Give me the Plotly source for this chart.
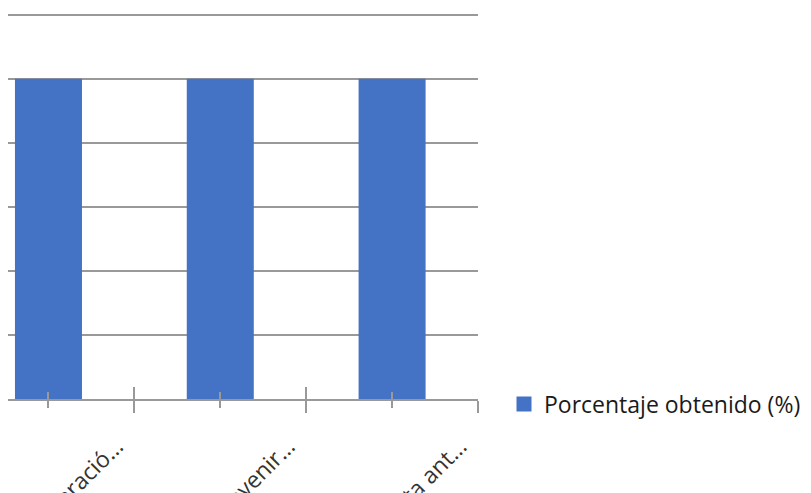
import plotly.graph_objects as go

categories = ["Cooperació…", "Prevenir…", "Respuesta ant…"]
values = [100, 100, 100]
series_name = "Porcentaje obtenido (%)"
y_ticks = [0, 20, 40, 60, 80, 100, 120]

BLUE = "#4472C4"
GRID = "#999999"
FONT = "Open Sans"

idx = list(range(len(categories)))
bounds = [i + 0.5 for i in idx]
xr = [-0.2355, len(categories) - 0.5]
yr = [0, 120.5]

fig = go.Figure()
fig.add_trace(go.Bar(x=idx, y=values, width=0.39, marker=dict(color=BLUE, line=dict(width=0)),
                     name=series_name, showlegend=False))
# legend entry with bigger square
fig.add_trace(go.Scatter(x=[None], y=[None], mode="markers", name=series_name,
                         marker=dict(symbol="square", size=15, color=BLUE)))
# overlay trace for inside ticks
fig.add_trace(go.Scatter(x=[None], y=[None], xaxis="x2", showlegend=False, hoverinfo="skip"))

common = dict(range=xr, showgrid=False, zeroline=False, tickwidth=1.5, tickcolor=GRID,
              automargin=False)
fig.update_layout(
    width=811, height=493,
    margin=dict(l=0, r=340.5, t=5.4, b=102, pad=0),
    paper_bgcolor="white", plot_bgcolor="white",
    xaxis=dict(**common, tickmode="array", tickvals=idx, ticktext=categories,
               ticks="outside", ticklen=7, ticklabeloverflow="allow",
               showline=True, linecolor=GRID, linewidth=1.5,
               tickangle=-45, ticklabelshift=68, ticklabelstandoff=16,
               tickfont=dict(family=FONT, size=23, color="#333333"),
               minor=dict(tickmode="array", tickvals=bounds, ticks="outside", ticklen=12,
                          tickwidth=1.5, tickcolor=GRID, showgrid=False)),
    xaxis2=dict(**common, overlaying="x", anchor="y", side="bottom",
                tickmode="array", tickvals=idx, ticks="inside", ticklen=7,
                showticklabels=False, showline=False,
                minor=dict(tickmode="array", tickvals=bounds, ticks="inside", ticklen=12,
                           tickwidth=1.5, tickcolor=GRID, showgrid=False)),
    yaxis=dict(range=yr, tickmode="array", tickvals=y_ticks, showticklabels=False,
               showgrid=True, gridcolor=GRID, gridwidth=1.5, zeroline=False, showline=False,
               automargin=False),
    legend=dict(xref="container", yref="container", x=496/811, y=1 - 396/493,
                xanchor="left", yanchor="middle",
                font=dict(family=FONT, size=23, color="#1a1a1a"), bgcolor="rgba(0,0,0,0)"),
    bargap=0.61,
)
fig.write_html("out.html")
